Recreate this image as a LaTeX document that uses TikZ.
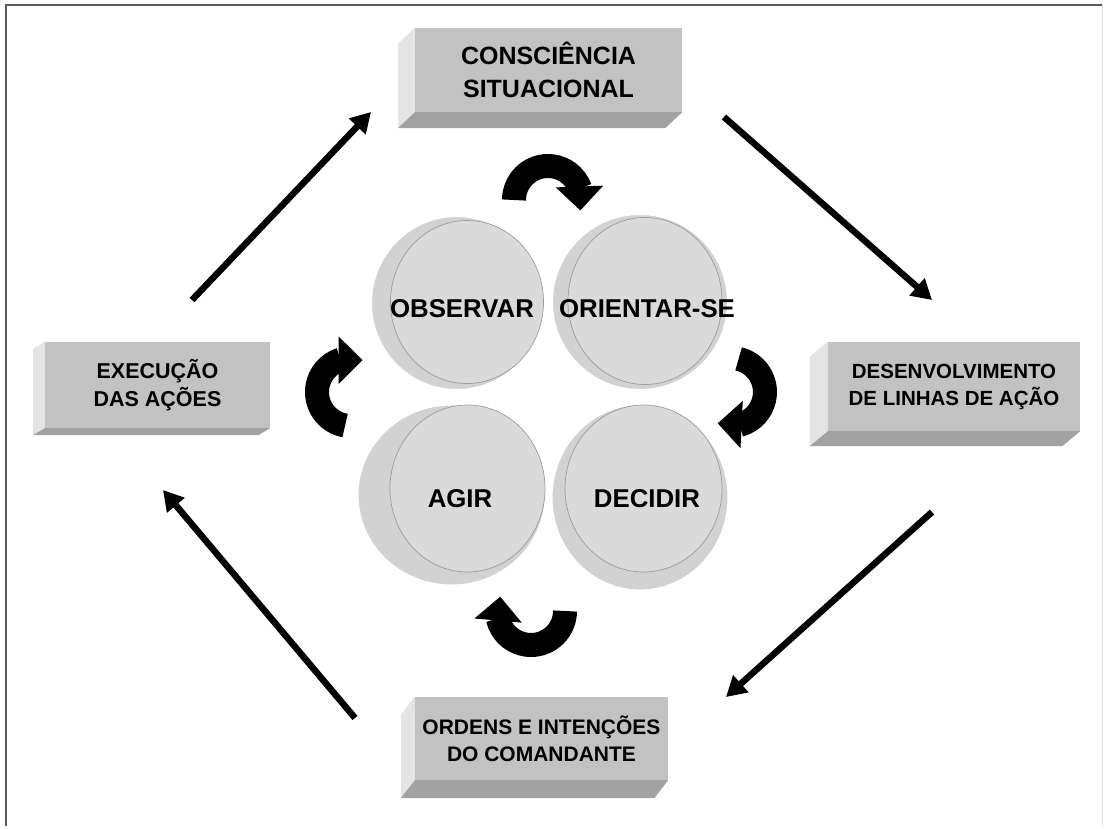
\documentclass[tikz,border=0pt]{standalone}
\usepackage{fontspec}
\setmainfont{Liberation Sans}
\usetikzlibrary{arrows.meta,bending,shapes.geometric}
\definecolor{frontC}{HTML}{C2C2C2}
\definecolor{sideL}{HTML}{E4E4E4}
\definecolor{sideB}{HTML}{A2A2A2}
\definecolor{discOut}{HTML}{D2D2D2}
\definecolor{discIn}{HTML}{DADADA}
\definecolor{discLine}{HTML}{9C9C9C}
\definecolor{frameC}{HTML}{5A5A5A}
\newcommand\boxsides[3]{%
  \fill[sideL] (#1.north west) -- ++(#2,#3) -- ([shift={(#2,#3)}]#1.south west) -- (#1.south west) -- cycle;
  \fill[sideB] (#1.south west) -- ++(#2,#3) -- ([shift={(#2,#3)}]#1.south east) -- (#1.south east) -- cycle;}
\begin{document}
\begin{tikzpicture}[x=1pt,y=-1pt,
  boxfront/.style={fill=frontC, draw=none, inner sep=0pt, align=center, text=black},
  discback/.style={ellipse, fill=discOut, draw=white, line width=1pt, inner sep=0pt},
  discface/.style={ellipse, fill=discIn, draw=discLine, line width=0.7pt, inner sep=0pt},
  disclabel/.style={font=\bfseries\fontsize{25.8}{30}\selectfont, inner sep=0pt},
  straight/.style={line width=6.5pt, -{Triangle[length=20pt,width=22pt]}},
  curved/.style={line width=24pt, -{Triangle[length=24pt,width=46pt,flex]}}
]
\useasboundingbox (0,0) rectangle (1105,828);
% frame
\draw[frameC, line width=2pt] (6,826) -- (6,5) -- (1102,5);
\draw[black!12, line width=1pt] (1102,5) -- (1102,826);

% boxes
\node[boxfront, font=\bfseries\fontsize{25}{33}\selectfont, minimum width=267pt, minimum height=84pt] (cs) at (548.5,70)
  {CONSCIÊNCIA\\SITUACIONAL};
\boxsides{cs}{-17}{16}
\node[boxfront, font=\bfseries\fontsize{21.5}{28}\selectfont, minimum width=225pt, minimum height=86pt] (ex) at (157.5,385)
  {EXECUÇÃO\\DAS AÇÕES};
\boxsides{ex}{-12}{7}
\node[boxfront, font=\bfseries\fontsize{20.5}{27}\selectfont, minimum width=252pt, minimum height=89pt] (dl) at (954,386.5)
  {DESENVOLVIMENTO\\DE LINHAS DE AÇÃO};
\boxsides{dl}{-18}{15}
\node[boxfront, font=\bfseries\fontsize{21}{27}\selectfont, minimum width=253pt, minimum height=83pt] (oi) at (541.5,738.5)
  {ORDENS E INTENÇÕES\\DO COMANDANTE};
\boxsides{oi}{-14}{18}

% discs
\node[discback, minimum width=171pt, minimum height=173pt] (obsB) at (457,303) {};
\node[discface, minimum width=153pt, minimum height=163pt] (obs) at (467,302) {};
\node[discback, minimum width=175pt, minimum height=175pt] (oriB) at (640,302) {};
\node[discface, minimum width=154pt, minimum height=167pt] (ori) at (645,301) {};
\node[discback, minimum width=187pt, minimum height=180pt] (agiB) at (451.5,495) {};
\node[discface, minimum width=155pt, minimum height=167pt] (agi) at (467.5,488.5) {};
\node[discback, minimum width=176pt, minimum height=185pt] (decB) at (640,497.5) {};
\node[discface, minimum width=157pt, minimum height=167pt] (dec) at (643.5,488.5) {};
\node[disclabel] (obsT) at (462,309) {OBSERVAR};
\node[disclabel] (oriT) at (647,309) {ORIENTAR-SE};
\node[disclabel] (agiT) at (460,499) {AGIR};
\node[disclabel] (decT) at (647,499) {DECIDIR};

% curved arrows
\draw[curved] (514,200) arc[start angle=180, end angle=378, radius=34];
\draw[curved] (738.6,358.9) arc[start angle=283, end angle=473, radius=34];
\draw[curved] (565,611) arc[start angle=0, end angle=205, radius=34];
\draw[curved] (345.1,425.5) arc[start angle=100, end angle=290, radius=34];

% straight arrows
\coordinate (a1s) at (192,300); \coordinate (a1e) at (371,112);
\coordinate (a2s) at (724,117); \coordinate (a2e) at (932,300);
\coordinate (a3s) at (932,512); \coordinate (a3e) at (726,697);
\coordinate (a4s) at (355,718); \coordinate (a4e) at (163,490);
\draw[straight] (a1s) -- (a1e);
\draw[straight] (a2s) -- (a2e);
\draw[straight] (a3s) -- (a3e);
\draw[straight] (a4s) -- (a4e);
\end{tikzpicture}
\end{document}
